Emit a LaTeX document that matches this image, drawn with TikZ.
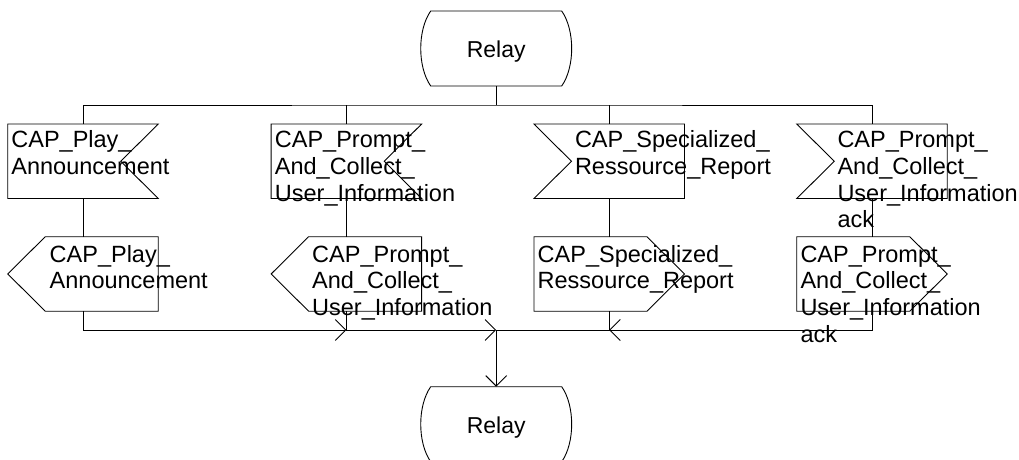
\documentclass[tikz,border=0pt]{standalone}
\usepackage{fontspec}
\setmainfont{Liberation Sans}
\usetikzlibrary{arrows.meta,calc}
\tikzset{
  ln/.style={line width=0.9pt, black},
  sigbox/.style={minimum width=150.5pt, minimum height=74.5pt, inner sep=0pt, outer sep=0pt},
  relay/.style={minimum width=131pt, minimum height=75pt, inner sep=0pt, outer sep=0pt,
    font=\fontsize{23}{26.8}\selectfont, text height=17.6pt, text depth=0pt},
  lbl/.style={anchor=base west, inner sep=0pt, font=\fontsize{23.5}{26.8}\selectfont},
  arr/.style={-{Straight Barb[length=10.5pt,width=21pt]}},
}
\begin{document}
\begin{tikzpicture}[x=1pt,y=-1pt]
\useasboundingbox (0,0) rectangle (1019,459);
\clip (0,0) rectangle (1019,459);
% relay states
\node[relay] (r1) at (496.2,48.5) {Relay};
\node[relay] (r2) at (496.2,424.2) {Relay};
\foreach \r in {r1,r2}{
  \draw[ln] (\r.north west) -- (\r.north east)
    .. controls ($(\r.north east)+(13.3,19)$) and ($(\r.south east)+(13.3,-19)$) .. (\r.south east)
    -- (\r.south west)
    .. controls ($(\r.south west)+(-13.3,-19)$) and ($(\r.north west)+(-13.3,19)$) .. (\r.north west) -- cycle;
}
% input signal boxes
\node[sigbox] (i1) at (83,161.25) {};
\node[sigbox] (i2) at (346.4,161.25) {};
\node[sigbox] (i3) at (609.2,161.25) {};
\node[sigbox] (i4) at (872,161.25) {};
\foreach \b in {i1,i2}{
  \draw[ln] (\b.north west) -- (\b.north east) -- ($(\b.east)+(-37.5,0)$) -- (\b.south east) -- (\b.south west) -- cycle;
}
\foreach \b in {i3,i4}{
  \draw[ln] (\b.north west) -- (\b.north east) -- (\b.south east) -- (\b.south west) -- ($(\b.west)+(37.5,0)$) -- cycle;
}
% output signal boxes
\node[sigbox] (o1) at (83,273.95) {};
\node[sigbox] (o2) at (346.4,273.95) {};
\node[sigbox] (o3) at (609.2,273.95) {};
\node[sigbox] (o4) at (872,273.95) {};
\foreach \b in {o1,o2}{
  \draw[ln] ($(\b.north west)+(37.5,0)$) -- (\b.north east) -- (\b.south east) -- ($(\b.south west)+(37.5,0)$) -- (\b.west) -- cycle;
}
\foreach \b in {o3,o4}{
  \draw[ln] (\b.north west) -- ($(\b.north east)+(-37.5,0)$) -- (\b.east) -- ($(\b.south east)+(-37.5,0)$) -- (\b.south west) -- cycle;
}
% labels
\node[lbl] (ti1) at (11.2,147.5) {\parbox[t]{8cm}{CAP\_Play\_\\Announcement}};
\node[lbl] (ti2) at (274.7,147.5) {\parbox[t]{8cm}{CAP\_Prompt\_\\And\_Collect\_\\User\_Information}};
\node[lbl] (ti3) at (574.8,147.5) {\parbox[t]{8cm}{CAP\_Specialized\_\\Ressource\_Report}};
\node[lbl] (ti4) at (837.3,147.5) {\parbox[t]{8cm}{CAP\_Prompt\_\\And\_Collect\_\\User\_Information\\ack}};
\node[lbl] (to1) at (49.5,262) {\parbox[t]{8cm}{CAP\_Play\_\\Announcement}};
\node[lbl] (to2) at (312,262) {\parbox[t]{8cm}{CAP\_Prompt\_\\And\_Collect\_\\User\_Information}};
\node[lbl] (to3) at (537.5,262) {\parbox[t]{8cm}{CAP\_Specialized\_\\Ressource\_Report}};
\node[lbl] (to4) at (800.3,262) {\parbox[t]{8cm}{CAP\_Prompt\_\\And\_Collect\_\\User\_Information\\ack}};
% top connectors
\coordinate (jt) at (496.2,105);
\draw[ln] (r1.south) -- (jt);
\draw[ln] (i1.north) |- (jt) -| (i4.north);
\draw[ln] (i2.north) -- (i2.north |- jt);
\draw[ln] (i3.north) -- (i3.north |- jt);
\draw[ln] (i1.south) -- (o1.north);
\draw[ln] (i2.south) -- (o2.north);
\draw[ln] (i3.south) -- (o3.north);
\draw[ln] (i4.south) -- (o4.north);
% bottom connectors
\coordinate (jb) at (496.2,330);
\draw[ln,arr] (o1.south) |- (o2.south |- jb);
\draw[ln,arr] (o2.south) |- (jb);
\draw[ln,arr] (o4.south) |- (o3.south |- jb);
\draw[ln] (o3.south) |- (jb);
\draw[ln,arr] (jb) -- (r2.north);
\end{tikzpicture}
\end{document}
